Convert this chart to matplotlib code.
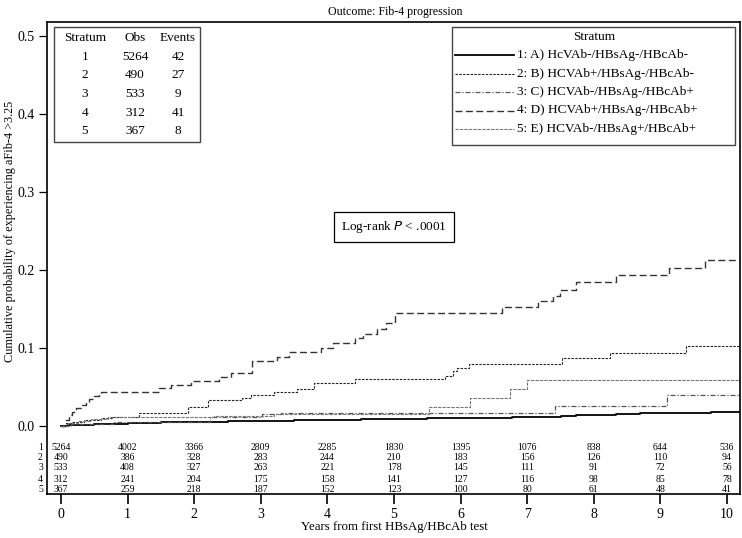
import matplotlib
matplotlib.use("Agg")
import matplotlib.pyplot as plt
from matplotlib.patches import Rectangle
from matplotlib.lines import Line2D

plt.rcParams['font.family'] = ['Liberation Serif', 'DejaVu Serif']

# ---------------- data ----------------
strata = ["1", "2", "3", "4", "5"]
labels = ["1: A) HcVAb-/HBsAg-/HBcAb-",
          "2: B) HCVAb+/HBsAg-/HBcAb-",
          "3: C) HCVAb-/HBsAg-/HBcAb+",
          "4: D) HCVAb+/HBsAg-/HBcAb+",
          "5: E) HCVAb-/HBsAg+/HBcAb+"]
obs = [5264, 490, 533, 312, 367]
events = [42, 27, 9, 41, 8]

t1 = [0, 0.1, 0.25, 0.5, 0.75, 1.0, 1.25, 1.5, 1.75, 2.0, 2.5, 3.0, 3.5, 4.0, 4.5,
      5.0, 5.5, 6.0, 6.49, 6.77, 7.51, 7.74, 8.34, 8.69, 9.76]
v1 = [0, 0.001, 0.0018, 0.0025, 0.003, 0.0035, 0.004, 0.0045, 0.005, 0.0055, 0.0062,
      0.007, 0.0077, 0.0083, 0.0088, 0.0093, 0.0097, 0.0100, 0.0107, 0.0120, 0.0132,
      0.0138, 0.0158, 0.0165, 0.0184]

t2 = [0, 0.08, 0.17, 0.35, 0.6, 0.77, 1.17, 1.9, 2.2, 2.72, 2.85, 3.2, 3.55, 3.8, 4.42,
      5.77, 5.89, 5.95, 6.13, 7.53, 8.25, 9.38]
v2 = [0, 0.004, 0.0055, 0.008, 0.010, 0.012, 0.017, 0.025, 0.033, 0.036, 0.040, 0.043,
      0.047, 0.055, 0.060, 0.064, 0.070, 0.075, 0.080, 0.087, 0.094, 0.103]

t3 = [0, 0.15, 0.4, 0.8, 2.23, 3.02, 3.3, 7.42, 9.1]
v3 = [0, 0.002, 0.003, 0.0045, 0.011, 0.015, 0.0163, 0.0257, 0.040]

t4 = [0, 0.07, 0.12, 0.17, 0.22, 0.3, 0.37, 0.42, 0.5, 0.57, 0.6, 1.47, 1.65, 1.95,
      2.37, 2.55, 2.87, 3.25, 3.43, 3.91, 4.08, 4.42, 4.53, 4.75, 4.88, 5.02, 6.62,
      7.16, 7.39, 7.5, 7.73, 8.34, 9.13, 9.67]
v4 = [0, 0.008, 0.014, 0.018, 0.023, 0.027, 0.031, 0.034, 0.038, 0.042, 0.044, 0.049,
      0.053, 0.058, 0.063, 0.068, 0.083, 0.089, 0.095, 0.100, 0.107, 0.113, 0.118,
      0.125, 0.132, 0.145, 0.152, 0.160, 0.167, 0.175, 0.184, 0.193, 0.202, 0.2125]

t5 = [0, 0.1, 0.25, 0.45, 0.7, 1.6, 2.3, 3.2, 5.53, 6.14, 6.74, 6.99]
v5 = [0, 0.004, 0.007, 0.009, 0.011, 0.012, 0.013, 0.0155, 0.025, 0.036, 0.047, 0.059]

risk_times = [0, 1, 2, 3, 4, 5, 6, 7, 8, 9, 10]
risk1 = [5264, 4002, 3366, 2809, 2285, 1830, 1395, 1076, 838, 644, 536]
risk2 = [490, 386, 328, 283, 244, 210, 183, 156, 126, 110, 94]
risk3 = [533, 408, 327, 263, 221, 178, 145, 111, 91, 72, 56]
risk4 = [312, 241, 204, 175, 158, 141, 127, 116, 98, 85, 78]
risk5 = [367, 259, 218, 187, 152, 123, 100, 80, 61, 48, 41]

yticks = [0.0, 0.1, 0.2, 0.3, 0.4, 0.5]
xticks = [0, 1, 2, 3, 4, 5, 6, 7, 8, 9, 10]

# ---------------- styles ----------------
styles = [dict(color='black', lw=1.3, ls='-'),
          dict(color='#222222', lw=0.8, dashes=(2.2, 1.2)),
          dict(color='#555555', lw=0.9, dashes=(4, 1.5, 1, 1.5)),
          dict(color='#333333', lw=1.0, dashes=(5, 2.5)),
          dict(color='#777777', lw=0.8, dashes=(3, 1))]

W, H = 742, 538
fig = plt.figure(figsize=(W / 100, H / 100), dpi=100)
fig.patch.set_facecolor('white')

L, R, T, B = 47, 740, 22, 494
ax = fig.add_axes([L / W, 1 - B / H, (R - L) / W, (B - T) / H])

x0px, x10px = 61, 727
ppy = (x10px - x0px) / 10.0
y0px, ppv = 426, 780.0
xmin = (L - x0px) / ppy
xmax = (R - x0px) / ppy
ymin = (y0px - B) / ppv
ymax = (y0px - T) / ppv
ax.set_xlim(xmin, xmax)
ax.set_ylim(ymin, ymax)

series = [(t1, v1), (t2, v2), (t3, v3), (t4, v4), (t5, v5)]
for (t, v), st in zip(series, styles):
    tt = list(t) + [xmax]
    vv = list(v) + [v[-1]]
    ax.step(tt, vv, where='post', **st)

for s in ax.spines.values():
    s.set_linewidth(1.2)
    s.set_color('black')

ax.set_yticks(yticks)
ax.set_yticklabels([f"{v:.1f}" for v in yticks], fontsize=10)
ax.set_xticks(xticks)
ax.set_xticklabels([str(v) for v in xticks], fontsize=10)
ax.tick_params(axis='y', direction='out', length=6, width=0.9, pad=3)
ax.tick_params(axis='x', direction='out', length=7, width=1.2, pad=3)

ax.set_xlabel("Years from first HBsAg/HBcAb test", fontsize=9.3)
ax.set_ylabel("Cumulative probability of experiencing aFib-4 >3.25", fontsize=8.8)
ax.xaxis.set_label_coords((5 - xmin) / (xmax - xmin), -0.058)
ax.yaxis.set_label_coords(-0.045, (0.25 - ymin) / (ymax - ymin))

fig.text(395 / W, 1 - 12 / H, "Outcome: Fib-4 progression", ha='center', va='center',
         fontsize=8.6)

# numbers at risk
risk_rows = [risk1, risk2, risk3, risk4, risk5]
row_px = [447, 458, 468, 479, 489]
for lab, row, ypx in zip(strata, risk_rows, row_px):
    yv = (y0px - ypx) / ppv
    for tx, n in zip(risk_times, row):
        ax.text(tx, yv, str(n), ha='center', va='center', fontsize=7)
    ax.text(-0.006, yv, lab, ha='right', va='center', fontsize=7,
            transform=ax.get_yaxis_transform(), clip_on=False)

# summary table
def fx(px):
    return px / W

def fy(py):
    return 1 - py / H

fig.add_artist(Rectangle((fx(54), fy(142)), fx(200) - fx(54), fy(27) - fy(142),
                         transform=fig.transFigure, fill=False, edgecolor='#444444', lw=1.0))
col_x = [85, 135, 178]
fig.text(fx(col_x[0]), fy(38), "Stratum", ha='center', va='center', fontsize=9.5)
fig.text(fx(col_x[1]), fy(38), "Obs", ha='center', va='center', fontsize=9.5)
fig.text(fx(col_x[2]), fy(38), "Events", ha='center', va='center', fontsize=9.5)
tab_rows = [57, 75.5, 94, 112.5, 131]
for s, o, e, ypx in zip(strata, obs, events, tab_rows):
    fig.text(fx(col_x[0]), fy(ypx), s, ha='center', va='center', fontsize=9.5)
    fig.text(fx(col_x[1]), fy(ypx), str(o), ha='center', va='center', fontsize=9.5)
    fig.text(fx(col_x[2]), fy(ypx), str(e), ha='center', va='center', fontsize=9.5)

# legend
fig.add_artist(Rectangle((fx(452), fy(145)), fx(735) - fx(452), fy(27) - fy(145),
                         transform=fig.transFigure, fill=False, edgecolor='#444444', lw=1.0))
fig.text(fx(594), fy(37), "Stratum", ha='center', va='center', fontsize=9.5)
leg_rows = [55, 73.5, 92, 110.5, 129]
for st, lab, ypx in zip(styles, labels, leg_rows):
    line = Line2D([fx(455), fx(514)], [fy(ypx), fy(ypx)], transform=fig.transFigure, **st)
    fig.add_artist(line)
    fig.text(fx(517), fy(ypx), lab, ha='left', va='center', fontsize=9.5)

# log-rank box
ax.text((394 - x0px) / ppy, (y0px - 227) / ppv, "Log-rank $\\it{P}$ < .0001",
        ha='center', va='center', fontsize=9.5,
        bbox=dict(boxstyle='square,pad=0.55', facecolor='white', edgecolor='black', lw=0.9))

fig.savefig("out.png", dpi=100, facecolor='white')
